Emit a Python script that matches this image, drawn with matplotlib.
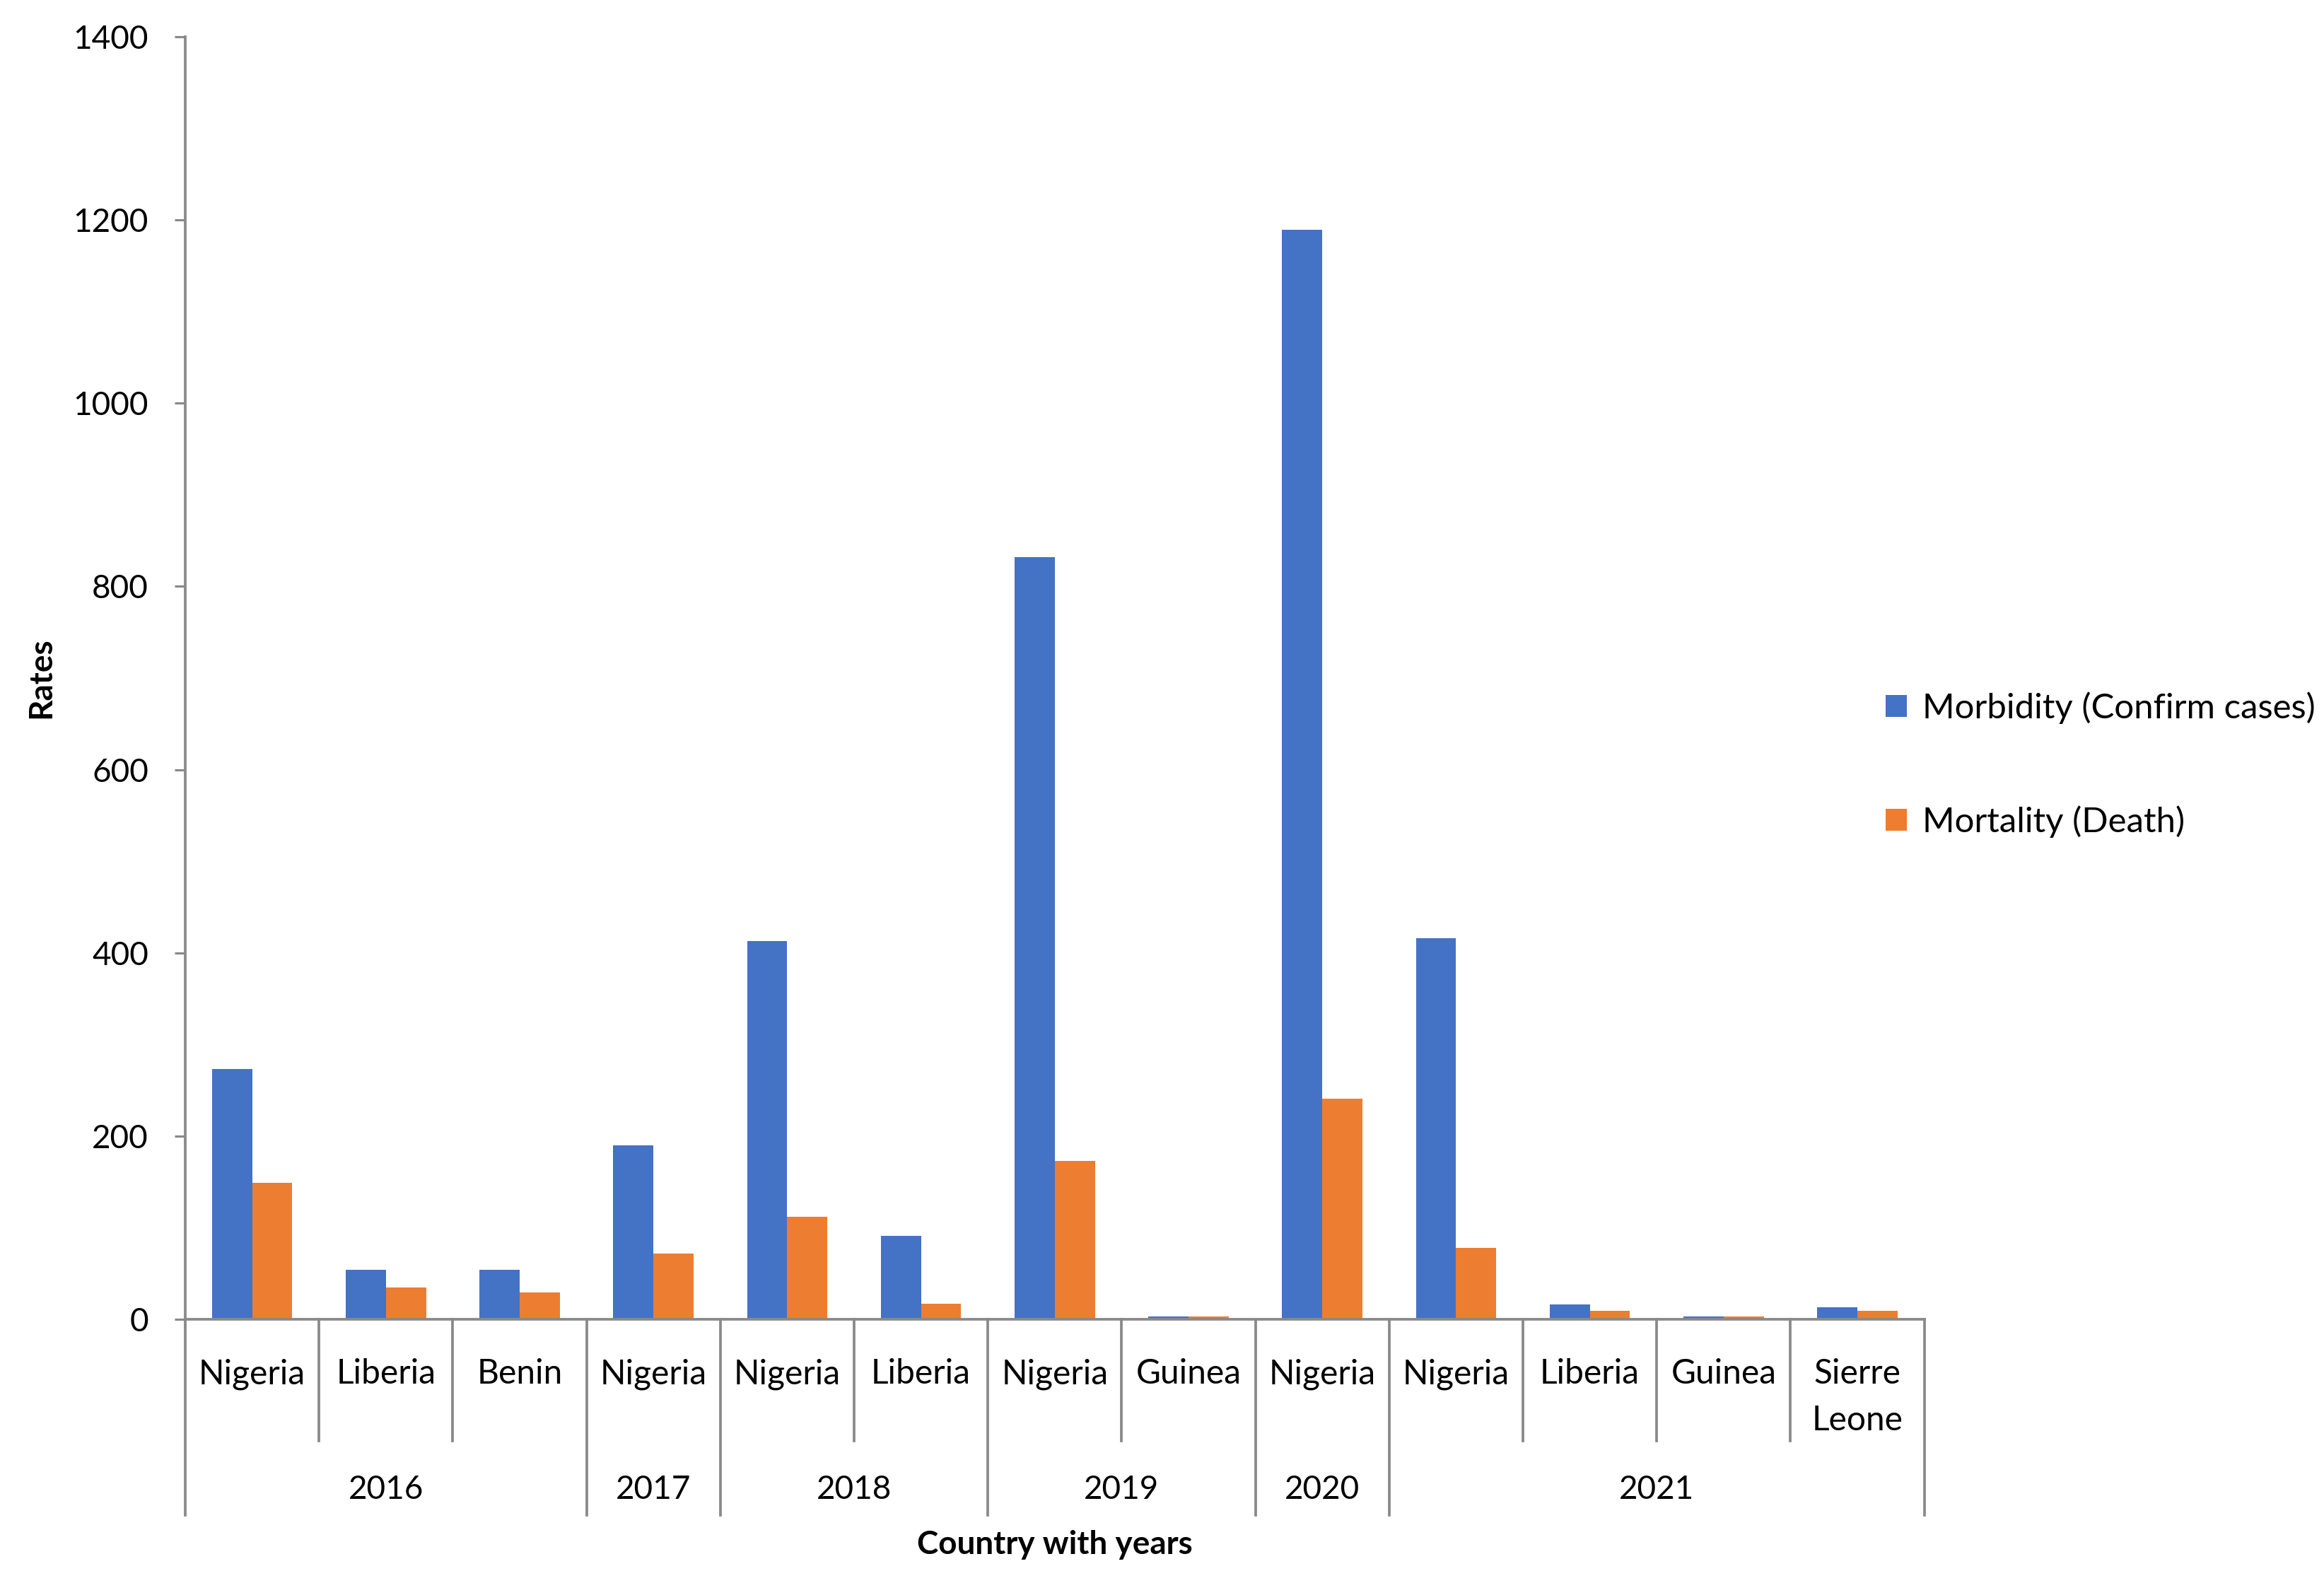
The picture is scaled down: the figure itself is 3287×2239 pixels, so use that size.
import matplotlib
matplotlib.use("Agg")
import matplotlib.pyplot as plt
from matplotlib.patches import Patch
import numpy as np

countries = ["Nigeria", "Liberia", "Benin", "Nigeria", "Nigeria", "Liberia", "Nigeria",
             "Guinea", "Nigeria", "Nigeria", "Liberia", "Guinea", "Sierre\nLeone"]
years = ["2016", "2016", "2016", "2017", "2018", "2018", "2019", "2019", "2020",
         "2021", "2021", "2021", "2021"]
morbidity = [273, 54, 54, 190, 413, 91, 832, 3, 1189, 416, 16, 3, 13]
mortality = [149, 35, 29, 72, 112, 17, 173, 3, 241, 78, 9, 3, 9]
yticks = [0, 200, 400, 600, 800, 1000, 1200, 1400]

BLUE = "#4472C4"
ORANGE = "#ED7D31"
GRAY = "#898989"
FONT = ["Lato", "DejaVu Sans"]

plt.rcParams["font.family"] = FONT
plt.rcParams["font.size"] = 11

fig = plt.figure(figsize=(3287 / 300, 2239 / 300), dpi=300)
ax = fig.add_axes([0.0797, 0.1666, 0.828 - 0.0797, 0.9768 - 0.1666])

x = np.arange(len(countries))
w = 0.3
ax.bar(x - w / 2, morbidity, width=w, color=BLUE, label="Morbidity (Confirm cases)")
ax.bar(x + w / 2, mortality, width=w, color=ORANGE, label="Mortality (Death)")

ax.set_xlim(-0.5, len(countries) - 0.5)
ax.set_ylim(0, 1400)
ax.set_yticks(yticks)
ax.set_yticklabels([str(v) for v in yticks])
ax.tick_params(axis="y", length=3.5, width=0.75, color=GRAY, pad=9, labelsize=11)
ax.set_xticks([])
for s in ["top", "right"]:
    ax.spines[s].set_visible(False)
for s in ["left", "bottom"]:
    ax.spines[s].set_color(GRAY)
    ax.spines[s].set_linewidth(0.9)

trans = ax.get_xaxis_transform()
# country labels
for i, c in enumerate(countries):
    ax.text(i, -0.0305, c, transform=trans, ha="center", va="top", fontsize=11.5,
            linespacing=1.6)

# separators
inner_y = -0.0948
outer_y = -0.1526
for i in range(len(countries) + 1):
    xb = i - 0.5
    if i == 0 or i == len(countries) or years[i] != years[i - 1]:
        ax.plot([xb, xb], [0, outer_y], transform=trans, color=GRAY, lw=0.9, clip_on=False)
    else:
        ax.plot([xb, xb], [0, inner_y], transform=trans, color=GRAY, lw=0.9, clip_on=False)

# year labels
uniq = []
for y in years:
    if y not in uniq:
        uniq.append(y)
for y in uniq:
    idx = [i for i, v in enumerate(years) if v == y]
    ax.text((idx[0] + idx[-1]) / 2, -0.1329, y, transform=trans, ha="center",
            va="center", fontsize=11)

ax.text(0.5, -0.1757, "Country with years", transform=ax.transAxes, ha="center",
        va="center", fontsize=11, fontweight="bold")
ax.text(-0.0827, 0.5, "Rates", transform=ax.transAxes, ha="center", va="center",
        rotation=90, fontsize=11, fontweight="bold")

handles = [Patch(facecolor=BLUE, label="Morbidity (Confirm cases)"),
           Patch(facecolor=ORANGE, label="Mortality (Death)")]
fig.legend(handles=handles, loc="center left", bbox_to_anchor=(0.798, 0.517),
           frameon=False, handlelength=0.6, handleheight=0.6, handletextpad=0.45,
           labelspacing=2.35, fontsize=11.8)

fig.savefig("out.png", dpi=300, facecolor="white")
